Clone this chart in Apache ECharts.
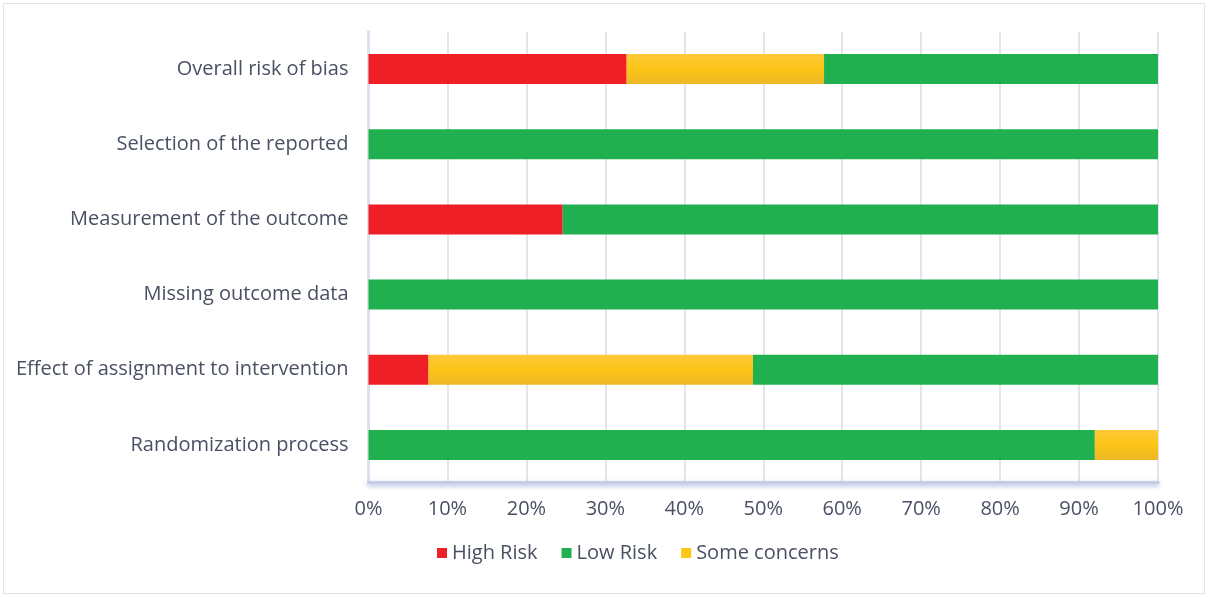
<!DOCTYPE html>
<html>
<head>
<meta charset="utf-8">
<script src="https://cdn.jsdelivr.net/npm/echarts@6/dist/echarts.min.js"></script>
<style>
html,body{margin:0;padding:0;background:#fff;}
#frame{position:absolute;left:3px;top:3px;width:1200px;height:589px;border:1px solid #dfe3ea;}
#chart{position:absolute;left:0;top:0;width:1208px;height:597px;}
</style>
</head>
<body>
<div id="frame"></div>
<div id="chart"></div>
<script>
const categories = ["Randomization process","Effect of assignment to intervention","Missing outcome data","Measurement of the outcome","Selection of the reported","Overall risk of bias"];
const highRisk = [0, 7.6, 0, 24.6, 0, 32.7];
const someConcernsBefore = [0, 41.1, 0, 0, 0, 25.0];
const lowRisk = [92.0, 51.3, 100, 75.4, 100, 42.3];
const someConcernsAfter = [8.0, 0, 0, 0, 0, 0];
const xTicks = [0,10,20,30,40,50,60,70,80,90,100];

const txt = '#4a5064';
const font = '"Open Sans", "Liberation Sans", sans-serif';
const yellow = new echarts.graphic.LinearGradient(0,0,0,1,[{offset:0,color:'#fec93a'},{offset:0.5,color:'#fdc515'},{offset:1,color:'#ecb628'}]);
const chart = echarts.init(document.getElementById('chart'));
chart.setOption({
  animation:false,
  textStyle:{fontFamily:font},
  grid:{left:368.5,right:50,top:31.5,bottom:114.5,containLabel:false},
  xAxis:{type:'value',min:0,max:100,interval:10,
    axisLabel:{formatter:v=>v+'%',color:txt,fontSize:20,margin:17,fontFamily:font},
    splitLine:{show:true,lineStyle:{color:'#e1e6ee',width:2}},
    axisLine:{show:true,lineStyle:{color:'#c5cde6',width:3,shadowColor:'rgba(90,110,190,0.5)',shadowBlur:4,shadowOffsetY:2}},
    axisTick:{show:false}},
  yAxis:{type:'category',data:categories,
    axisLabel:{color:txt,fontSize:20,margin:20,fontFamily:font},
    axisLine:{show:true,lineStyle:{color:'#d9e0ee',width:3}},
    axisTick:{show:false}},
  legend:{left:432,top:538,itemWidth:10,itemHeight:10,itemGap:24,icon:'rect',
    textStyle:{color:txt,fontSize:20,fontFamily:font,padding:[0,0,0,0]},
    data:[{name:'High Risk',itemStyle:{color:'#ee1f26'}},{name:'Low Risk',itemStyle:{color:'#21b050'}},{name:'Some concerns',itemStyle:{color:'#fdc515'}}]},
  series:[
    {name:'High Risk',type:'bar',stack:'s',data:highRisk,barWidth:30,itemStyle:{color:'#ee1f26'}},
    {name:'Some concerns',type:'bar',stack:'s',data:someConcernsBefore,barWidth:30,itemStyle:{color:yellow}},
    {name:'Low Risk',type:'bar',stack:'s',data:lowRisk,barWidth:30,itemStyle:{color:'#21b050'}},
    {name:'Some concerns',type:'bar',stack:'s',data:someConcernsAfter,barWidth:30,itemStyle:{color:yellow}}
  ]
});
</script>
</body>
</html>
